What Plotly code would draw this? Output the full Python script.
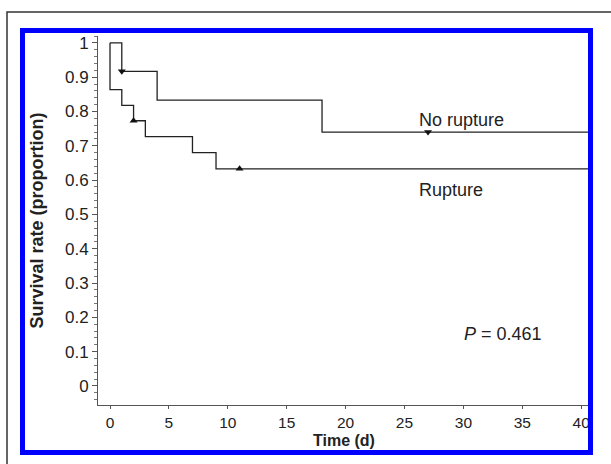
import plotly.graph_objects as go

# ---- data ----
no_rupture_t = [0, 1, 4, 18, 42]
no_rupture_s = [1.0, 0.917, 0.833, 0.74, 0.74]
no_rupture_cens_t = [1, 27]
no_rupture_cens_s = [0.917, 0.74]

rupture_t = [0, 0, 1, 2, 3, 7, 9, 42]
rupture_s = [1.0, 0.864, 0.818, 0.773, 0.727, 0.68, 0.633, 0.633]
rupture_cens_t = [2, 11]
rupture_cens_s = [0.773, 0.633]

x_ticks = [0, 5, 10, 15, 20, 25, 30, 35, 40]
y_ticks = [0, 0.1, 0.2, 0.3, 0.4, 0.5, 0.6, 0.7, 0.8, 0.9, 1]
y_tick_labels = ["0", "0.1", "0.2", "0.3", "0.4", "0.5", "0.6", "0.7", "0.8", "0.9", "1"]

W, H = 611, 464
L, R, T, B = 98, 590, 36, 405  # plot area pixel box

def px(x):
    return (x - L) / (R - L)

def py(y):
    return (B - y) / (B - T)

fig = go.Figure()
fig.add_trace(go.Scatter(x=no_rupture_t, y=no_rupture_s, mode="lines",
                         line=dict(shape="hv", color="#222", width=1.3),
                         showlegend=False, hoverinfo="skip"))
fig.add_trace(go.Scatter(x=rupture_t, y=rupture_s, mode="lines",
                         line=dict(shape="hv", color="#222", width=1.3),
                         showlegend=False, hoverinfo="skip"))
fig.add_trace(go.Scatter(x=no_rupture_cens_t, y=no_rupture_cens_s, mode="markers",
                         marker=dict(symbol="triangle-down", size=7, color="#111"),
                         showlegend=False))
fig.add_trace(go.Scatter(x=rupture_cens_t, y=rupture_cens_s, mode="markers",
                         marker=dict(symbol="triangle-up", size=7, color="#111"),
                         showlegend=False))

font = "Liberation Sans, Arial, sans-serif"
fig.update_layout(
    width=W, height=H,
    margin=dict(l=L, r=W - R, t=T, b=H - B, pad=0),
    paper_bgcolor="white", plot_bgcolor="white",
    font=dict(family=font, color="#222", size=14),
    xaxis=dict(range=[-1.02, 40.75], tickvals=x_ticks, ticks="outside", ticklen=3,
               tickcolor="#555", showline=True, linecolor="#555", linewidth=1,
               showgrid=False, zeroline=False,
               tickfont=dict(size=15.5, color="#222", family=font)),
    yaxis=dict(range=[-0.0554, 1.02], tickvals=y_ticks, ticktext=y_tick_labels,
               ticks="outside", ticklen=5, tickcolor="#555",
               showline=True, linecolor="#555", linewidth=1,
               showgrid=False, zeroline=False,
               minor=dict(dtick=0.02, ticks="outside", ticklen=3, tickcolor="#777"),
               tickfont=dict(size=17, color="#222", family=font),
               title=dict(text="<b>Survival rate (proportion)</b>", font=dict(size=18, family=font), standoff=16)),
)

# x-axis title placed as annotation to sit just above the frame
fig.add_annotation(x=px(344), y=py(440), xref="paper", yref="paper",
                   text="<b>Time (d)</b>", showarrow=False, xanchor="center", yanchor="middle",
                   font=dict(size=16, family=font, color="#222"))
fig.add_annotation(x=px(417), y=py(120), xref="paper", yref="paper",
                   text="No rupture", showarrow=False, xanchor="left", yanchor="middle",
                   font=dict(size=18, family=font, color="#222"))
fig.add_annotation(x=px(417), y=py(190), xref="paper", yref="paper",
                   text="Rupture", showarrow=False, xanchor="left", yanchor="middle",
                   font=dict(size=18, family=font, color="#222"))
fig.add_annotation(x=px(462), y=py(334), xref="paper", yref="paper",
                   text="<i>P</i> = 0.461", showarrow=False, xanchor="left", yanchor="middle",
                   font=dict(size=18, family=font, color="#222"))

# white cover outside the blue frame on the right
fig.add_shape(type="rect", xref="paper", yref="paper",
              x0=px(593), x1=px(611), y0=py(460), y1=py(20),
              fillcolor="white", line=dict(width=0), layer="above")
# blue frame
fig.add_shape(type="rect", xref="paper", yref="paper",
              x0=px(22.5), x1=px(590.5), y0=py(452.5), y1=py(30.5),
              line=dict(color="#0000ff", width=5), fillcolor="rgba(0,0,0,0)", layer="above")
# outer thin border
fig.add_shape(type="rect", xref="paper", yref="paper",
              x0=px(7), x1=px(620), y0=py(475), y1=py(12),
              line=dict(color="#333", width=1.5), fillcolor="rgba(0,0,0,0)", layer="above")

fig.write_html("out.html")
